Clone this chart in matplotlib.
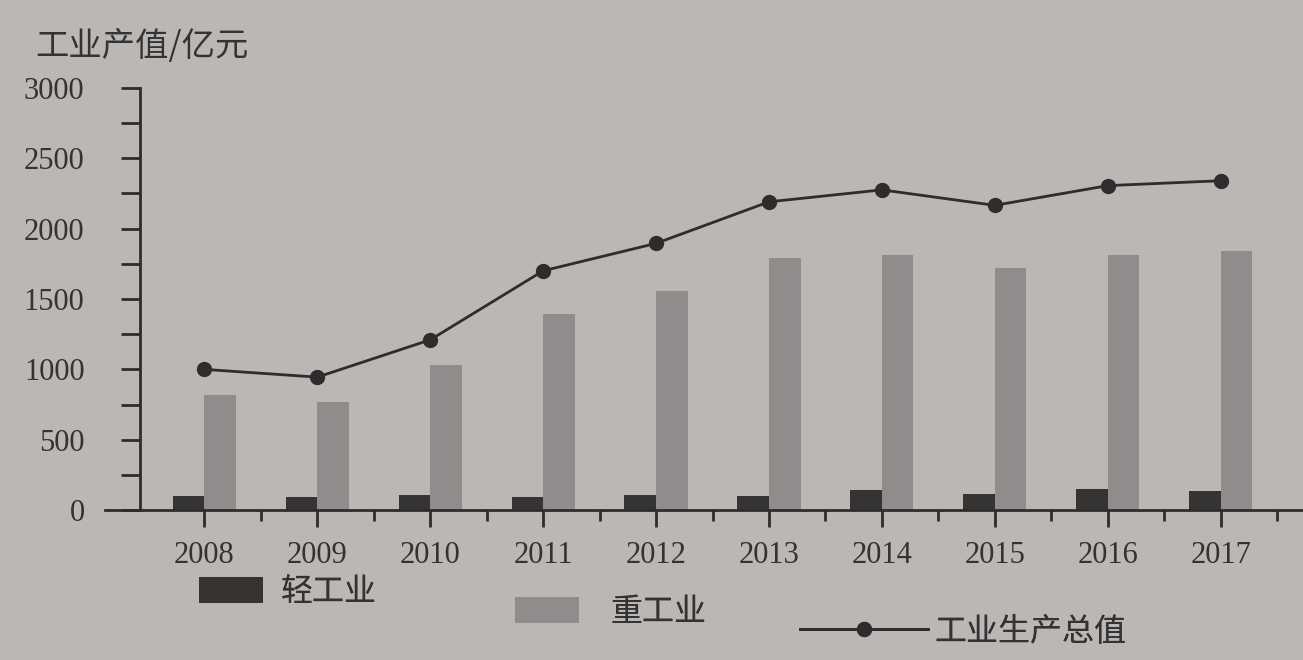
import numpy as np
import matplotlib.pyplot as plt
from matplotlib.ticker import MultipleLocator

plt.rcParams['font.family'] = ['Noto Sans CJK SC', 'DejaVu Sans']

years = ["2008", "2009", "2010", "2011", "2012", "2013", "2014", "2015", "2016", "2017"]
light = [100, 95, 105, 95, 110, 100, 140, 115, 150, 135]
heavy = [820, 770, 1030, 1390, 1555, 1790, 1815, 1720, 1815, 1840]
total = [1000, 945, 1210, 1700, 1895, 2190, 2275, 2165, 2305, 2340]
yticks = [0, 500, 1000, 1500, 2000, 2500, 3000]

paper = "#bab7b5"
ink = "#2e2c2c"
x = np.arange(len(years))
w = 0.28

fig = plt.figure(figsize=(13.03, 6.6), dpi=100, facecolor=paper)
ax = fig.add_axes([0.1075, 0.227, 0.8925, 0.64])
ax.set_facecolor(paper)

b1 = ax.bar(x - w / 2, light, w, color="#363333")
b2 = ax.bar(x + w / 2, heavy, w, color="#8f8c8b")
l1, = ax.plot(x, total, "-o", color=ink, lw=2, ms=10)

ax.set_xlim(-0.57, 9.73)
ax.set_ylim(0, 3000)
ax.spines["top"].set_visible(False)
ax.spines["right"].set_visible(False)
for s in ("left", "bottom"):
    ax.spines[s].set_linewidth(2)
    ax.spines[s].set_color(ink)
# x axis line runs a bit past the y axis on the left
ax.axhline(0, xmin=-0.03, xmax=0, color=ink, lw=2, clip_on=False)

ax.set_yticks(yticks)
ax.yaxis.set_minor_locator(MultipleLocator(250))
ax.set_xticks(x)
ax.set_xticks(x + 0.5, minor=True)
ax.tick_params(axis="both", which="both", color=ink, width=2)
ax.tick_params(axis="y", which="both", length=14, pad=26)
ax.tick_params(axis="x", which="major", length=12, pad=10)
ax.tick_params(axis="x", which="minor", length=8)

ax.set_xticklabels(years, family="Liberation Serif", fontsize=22, color="#333")
ax.set_yticklabels([str(v) for v in yticks], family="Liberation Serif",
                   fontsize=22, color="#333")

fig.text(0.027, 0.915, "工业产值/亿元", fontsize=24, color="#333")

items = [
    (b1, "轻工业", 0.153, 0.103, 2.0, 0.55),
    (b2, "重工业", 0.395, 0.073, 2.0, 1.0),
    (l1, "工业生产总值", 0.614, 0.042, 4.0, 0.2),
]
for h, lab, lx, ly, hl, tp in items:
    leg = fig.legend([h], [lab], loc="center left", bbox_to_anchor=(lx, ly),
                     frameon=False, fontsize=23, handlelength=hl, handleheight=0.9,
                     handletextpad=tp, borderpad=0, borderaxespad=0, labelcolor="#333")
    fig.add_artist(leg)

fig.savefig("out.png", dpi=100, facecolor=paper)
